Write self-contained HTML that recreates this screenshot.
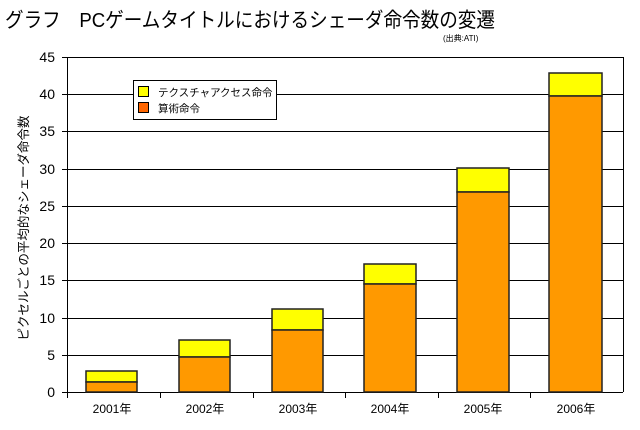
<!DOCTYPE html>
<html><head><meta charset="utf-8"><style>
body{margin:0;background:#fff;width:640px;height:425px;overflow:hidden}
svg text{font-family:"Liberation Sans","Noto Sans CJK JP",sans-serif;fill:#000}
</style></head><body>
<svg width="640" height="425" xmlns="http://www.w3.org/2000/svg">
<text x="5" y="27" font-size="20.5" textLength="490" lengthAdjust="spacingAndGlyphs">グラフ　PCゲームタイトルにおけるシェーダ命令数の変遷</text>
<text x="443" y="41" font-size="8">(出典:ATI)</text>
<g stroke="#000" stroke-width="1">
<line x1="62" y1="57.5" x2="623" y2="57.5"/>
<line x1="62" y1="94.5" x2="623" y2="94.5"/>
<line x1="62" y1="131.5" x2="623" y2="131.5"/>
<line x1="62" y1="169.5" x2="623" y2="169.5"/>
<line x1="62" y1="206.5" x2="623" y2="206.5"/>
<line x1="62" y1="243.5" x2="623" y2="243.5"/>
<line x1="62" y1="280.5" x2="623" y2="280.5"/>
<line x1="62" y1="318.5" x2="623" y2="318.5"/>
<line x1="62" y1="355.5" x2="623" y2="355.5"/>
<line x1="62" y1="392.5" x2="623" y2="392.5"/>
<line x1="67.5" y1="57" x2="67.5" y2="398"/>
<line x1="623.5" y1="57" x2="623.5" y2="392"/>
<line x1="160.5" y1="392" x2="160.5" y2="398"/>
<line x1="253.5" y1="392" x2="253.5" y2="398"/>
<line x1="345.5" y1="392" x2="345.5" y2="398"/>
<line x1="438.5" y1="392" x2="438.5" y2="398"/>
<line x1="530.5" y1="392" x2="530.5" y2="398"/>
</g>
<g stroke="#222" stroke-width="1.5">
<rect x="86" y="371" width="51" height="11" fill="#ffff00"/><rect x="86" y="382" width="51" height="10" fill="#ff9900"/>
<rect x="179" y="340" width="51" height="17" fill="#ffff00"/><rect x="179" y="357" width="51" height="35" fill="#ff9900"/>
<rect x="272" y="309" width="51" height="21" fill="#ffff00"/><rect x="272" y="330" width="51" height="62" fill="#ff9900"/>
<rect x="364" y="264" width="52" height="20" fill="#ffff00"/><rect x="364" y="284" width="52" height="108" fill="#ff9900"/>
<rect x="457" y="168" width="52" height="24" fill="#ffff00"/><rect x="457" y="192" width="52" height="200" fill="#ff9900"/>
<rect x="549" y="73" width="53" height="23" fill="#ffff00"/><rect x="549" y="96" width="53" height="296" fill="#ff9900"/>
</g>
<g font-size="14" text-anchor="end">
<text x="55" y="62">45</text><text x="55" y="99">40</text><text x="55" y="136">35</text><text x="55" y="174">30</text><text x="55" y="211">25</text><text x="55" y="248">20</text><text x="55" y="285">15</text><text x="55" y="323">10</text><text x="55" y="360">5</text><text x="55" y="397">0</text>
</g>
<g font-size="12" text-anchor="middle">
<text x="112" y="413">2001年</text><text x="205" y="413">2002年</text><text x="298" y="413">2003年</text><text x="390" y="413">2004年</text><text x="483" y="413">2005年</text><text x="576" y="413">2006年</text>
</g>
<text transform="translate(28,228) rotate(-90)" font-size="12.5" text-anchor="middle" textLength="225" lengthAdjust="spacingAndGlyphs">ピクセルごとの平均的なシェーダ命令数</text>
<rect x="133.5" y="80.5" width="143" height="39" fill="#fff" stroke="#000"/>
<rect x="138.5" y="86.5" width="10" height="10" fill="#ffff00" stroke="#000"/>
<rect x="138.5" y="102.5" width="10" height="10" fill="#ff6600" stroke="#000"/>
<text x="158" y="96" font-size="10.5">テクスチャアクセス命令</text>
<text x="158" y="112" font-size="10.5">算術命令</text>
</svg>
</body></html>
